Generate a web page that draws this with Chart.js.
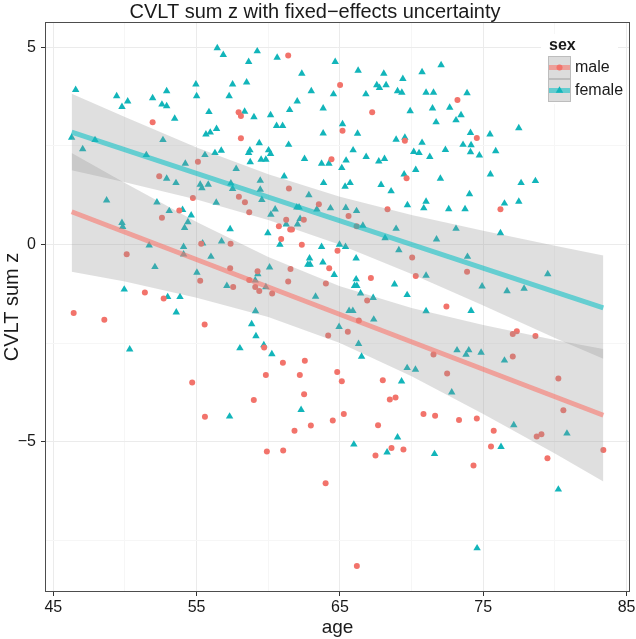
<!DOCTYPE html>
<html lang="en">
<head>
<meta charset="UTF-8" />
<title>CVLT sum z with fixed-effects uncertainty</title>
<script src="https://cdn.jsdelivr.net/npm/chart.js@4"></script>
<style>
  html, body { margin: 0; padding: 0; background: #fff; }
</style>
</head>
<body>
<canvas id="cvltChart" width="636" height="639"></canvas>
<script>
// values: [age, CVLT sum z]
const malePoints = [
  [51.93,3.10],[57.93,3.35],[58.09,3.26],[58.09,2.69],[55.09,2.10],[52.39,1.73],[54.74,1.18],[57.95,1.21],[53.79,0.86],
  [61.39,4.79],[65.01,4.04],[67.25,3.35],[65.18,2.88],[69.53,2.63],[64.41,2.16],[69.65,1.68],[61.44,1.42],[58.37,1.07],
  [63.53,1.02],[68.32,0.89],[58.67,0.82],
  [73.20,3.66],[74.55,2.70],[76.20,0.89],
  [52.58,0.68],[55.32,0.02],[57.37,0.02],[50.12,-0.25],[57.34,-0.60],[55.25,-0.92],[57.55,-1.08],[51.39,-1.22],
  [52.70,-1.37],[46.42,-1.74],[48.56,-1.91],[55.56,-2.03],[54.69,-3.50],
  [65.60,0.72],[61.25,0.63],[62.48,0.63],[60.74,0.46],[61.53,0.38],[61.65,0.38],[60.90,0.14],[62.34,-0.01],[64.83,-0.16],
  [61.55,-0.62],[64.25,-0.60],[59.25,-0.68],[58.67,-0.90],[61.39,-0.94],[64.02,-0.99],[59.09,-1.08],[59.37,-1.18],
  [60.27,-1.24],[67.16,-0.85],[70.29,-0.80],[70.04,-0.33],[66.90,-1.42],[66.32,-1.93],[65.55,-2.21],[64.18,-2.31],
  [59.71,-2.61],[61.02,-3.00],[62.55,-2.95],[59.83,-3.31],[62.20,-3.31],[64.81,-3.23],[65.13,-3.47],[67.99,-3.44],
  [58.99,-3.94],[62.50,-3.80],[68.48,-3.93],[68.88,-3.88],[71.53,-2.79],[66.16,0.46],
  [73.87,-0.69],[72.43,-1.57],[77.06,-2.27],[77.34,-2.20],[78.64,-2.32],[77.06,-2.84],[72.48,-3.27],[80.24,-3.40],
  [55.58,-4.37],
  [59.90,-5.25],[61.04,-5.22],[61.83,-4.72],[62.97,-4.59],[64.50,-4.46],[65.27,-4.30],[67.66,-4.58],[67.48,-5.35],
  [68.60,-5.16],[69.43,-5.20],[70.83,-4.30],[71.64,-4.34],[64.00,-6.05],[66.18,-8.15],
  [73.31,-4.45],[74.55,-4.41],[75.73,-4.72],[75.54,-5.12],[74.32,-5.60],[78.73,-4.87],[79.06,-4.81],[79.48,-5.42],
  [80.59,-4.20],[83.38,-5.21]
];

const femalePoints = [
  [56.44,4.98],[56.86,4.81],[46.56,3.92],[49.42,3.76],[50.19,3.63],[49.79,3.49],[51.93,3.71],[52.91,3.89],[52.58,3.55],
  [52.91,3.51],[54.95,4.06],[55.00,3.76],[57.51,4.06],[57.27,3.76],[55.86,3.36],[53.47,3.19],[46.28,2.71],[47.91,2.65],
  [47.05,2.42],[52.65,2.65],[55.65,2.79],[55.95,2.84],[56.39,2.93],[51.49,2.27],[54.21,2.05],[55.58,2.27],[56.28,2.32],
  [56.72,2.38],[57.76,1.92],[52.91,1.67],[53.56,1.56],[55.25,1.52],[55.37,1.43],[55.81,1.52],[57.39,1.55],[57.51,1.41],
  [48.72,1.12],[52.23,1.07],[56.37,1.06],[53.09,0.85],[54.02,0.88],
  [59.23,4.90],[58.63,4.63],[60.62,4.74],[58.49,4.11],[62.34,4.33],[64.67,4.63],[66.27,4.41],[68.06,4.33],[69.39,4.20],
  [70.73,4.37],[67.57,4.04],[67.76,3.97],[68.22,4.04],[69.02,3.89],[69.32,3.85],[71.01,3.85],[71.53,3.85],[63.00,3.89],
  [64.55,3.81],[66.81,3.81],[62.02,3.63],[61.49,3.41],[63.83,3.45],[58.35,3.37],[59.00,3.23],[60.16,3.28],[60.58,3.01],
  [61.00,3.01],[65.18,3.05],[63.83,2.82],[66.23,2.81],[69.90,3.38],[71.46,3.45],[71.71,3.10],[59.37,2.57],[61.42,2.53],
  [58.72,2.39],[58.63,2.32],[60.02,2.39],[60.16,2.30],[58.74,2.09],[59.50,2.15],[59.83,2.15],[62.53,2.17],[63.72,2.05],
  [64.23,2.05],[65.13,1.94],[65.43,2.13],[65.92,2.39],[66.83,2.22],[67.71,2.11],[68.11,2.17],[68.92,2.66],[69.53,2.71],
  [70.15,2.35],[70.52,2.32],[70.73,2.58],[71.27,2.22],[70.29,1.89],[69.48,1.78],[61.11,1.73],[59.44,1.62],[63.86,1.56],
  [65.71,1.56],[65.36,1.47],[67.87,1.51],[68.57,1.35],[62.83,1.25],[59.55,1.13],[59.44,1.39],[61.99,0.94],[62.15,0.94],
  [60.48,0.89],[63.39,0.89],[64.34,0.92],[65.41,0.93],[66.16,0.85],[69.71,1.00],[71.01,1.09],[70.85,0.92],
  [72.06,4.55],[73.87,3.84],[72.66,3.47],[73.45,3.28],[73.10,3.15],[74.11,2.83],[75.47,2.79],[77.48,2.95],[73.59,2.53],
  [74.15,2.52],[74.11,2.34],[74.73,2.26],[75.87,2.37],[72.36,2.40],[72.01,1.67],[75.50,1.78],[77.64,1.56],[78.64,1.61],
  [74.04,1.28],[76.48,1.04],[77.48,1.09],[72.59,0.90],[73.73,0.90],
  [49.79,0.55],[49.84,0.45],[54.62,0.74],[54.39,0.57],[54.16,0.42],[51.69,-0.02],[54.09,-0.06],[54.09,-0.25],[55.42,0.03],
  [56.74,0.08],[57.34,0.39],[56.00,-0.31],[52.09,-0.57],[55.02,-0.71],[57.11,-1.05],[49.95,-1.14],[52.98,-1.33],
  [53.84,-1.33],[53.58,-1.72],[50.33,-2.66],[58.02,-2.63],
  [60.18,0.76],[62.22,0.65],[62.04,0.51],[61.25,0.51],[59.97,0.29],[60.81,0.00],[66.60,0.48],[68.92,0.40],[68.15,0.16],
  [69.11,-0.14],[71.74,0.13],[63.72,-0.06],[64.97,0.00],[65.39,-0.06],[62.88,-0.35],[62.76,-0.51],[62.92,-0.51],
  [63.81,-0.45],[66.13,-0.35],[64.60,-0.77],[60.09,-0.58],[59.27,-0.75],[59.09,-0.91],[59.83,-1.08],[63.30,-1.32],
  [66.13,-0.88],[66.02,-1.05],[66.18,-1.05],[66.44,-1.24],[67.32,-1.35],[68.81,-1.01],[69.69,-1.28],[71.01,-0.79],
  [59.11,-1.69],[65.64,-1.68],[65.90,-1.68],[67.36,-1.90],[64.94,-2.09],[58.84,-2.02],[59.14,-2.32],[59.69,-2.55],
  [60.25,-2.78],[66.30,-2.52],[66.51,-2.84],[69.69,-3.13],[70.27,-3.17],[69.30,-3.47],[71.01,-1.69],
  [73.10,0.40],[76.20,0.29],[73.90,-0.31],[79.50,-0.75],[74.92,-1.06],[76.66,-1.18],[77.85,-1.12],[74.15,-1.68],
  [73.17,-2.68],[73.99,-2.68],[73.80,-2.79],[74.85,-2.74],[76.48,-2.94],[72.80,-3.75],
  [57.30,-4.36],
  [62.29,-4.19],[65.97,-5.07],[69.02,-4.89],[68.29,-5.27],[71.60,-5.31],
  [77.13,-4.58],[76.24,-5.13],[80.84,-4.79],[80.24,-6.21],[74.57,-7.70]
];

// fitted lines and fixed-effects bands
const lineAge = [46.28, 83.38];
const maleFit = [0.83, -4.33];
const femaleFit = [2.85, -1.61];

const bandAge = [46.28, 50, 55, 60, 65, 70, 75, 80, 83.38];
const maleUpper = [2.32, 1.56, 0.57, -0.32, -1.06, -1.61, -2.04, -2.42, -2.65];
const maleLower = [-0.69, -0.94, -1.35, -1.84, -2.50, -3.34, -4.30, -5.30, -6.01];
const femaleUpper = [3.82, 3.23, 2.46, 1.78, 1.21, 0.75, 0.35, -0.03, -0.28];
const femaleLower = [1.88, 1.58, 1.14, 0.62, -0.01, -0.75, -1.55, -2.37, -2.90];

const xMajor = [45, 55, 65, 75, 85];
const xMinor = [50, 60, 70, 80];
const yMajor = [-5, 0, 5];
const yMinor = [-7.5, -2.5, 2.5];

const MALE = '#F2736B';
const FEMALE = '#12B5BA';
const MALE_LINE = 'rgba(248,118,109,0.6)';
const FEMALE_LINE = 'rgba(0,191,196,0.55)';
const BAND = 'rgba(150,150,150,0.3)';
const FONT = '"Liberation Sans", Arial, Helvetica, sans-serif';

const toXY = (xs, ys) => xs.map((x, i) => ({ x: x, y: ys[i] }));
const pairs = arr => arr.map(p => ({ x: p[0], y: p[1] }));
const minus = v => (v < 0 ? '\u2212' + Math.abs(v) : String(v));

const panelAndKey = {
  id: 'panelAndKey',
  afterDraw(chart) {
    const { ctx, chartArea: a } = chart;
    ctx.save();

    // legend
    const kx = a.right - 82;
    ctx.fillStyle = '#fff';
    ctx.fillRect(a.right - 89, 34, 77, 70);
    ctx.fillStyle = '#1a1a1a';
    ctx.font = 'bold 16px ' + FONT;
    ctx.textBaseline = 'middle';
    ctx.fillText('sex', kx + 1, 46);

    const keys = [
      { label: 'male', y: 56, line: MALE_LINE, col: MALE, tri: false },
      { label: 'female', y: 79, line: FEMALE_LINE, col: FEMALE, tri: true }
    ];
    keys.forEach(k => {
      ctx.fillStyle = '#DCDCDC';
      ctx.fillRect(kx, k.y, 23, 23);
      ctx.strokeStyle = '#BDBDBD';
      ctx.lineWidth = 1;
      ctx.strokeRect(kx + 0.5, k.y + 0.5, 22, 22);
      const cy = k.y + 11.5, cx = kx + 11.5;
      ctx.strokeStyle = k.line;
      ctx.lineWidth = 5;
      ctx.beginPath();
      ctx.moveTo(kx + 1, cy);
      ctx.lineTo(kx + 22, cy);
      ctx.stroke();
      ctx.fillStyle = k.col;
      ctx.beginPath();
      if (k.tri) {
        const r = 4.3;
        ctx.moveTo(cx, cy - r);
        ctx.lineTo(cx + r * 0.866, cy + r * 0.5);
        ctx.lineTo(cx - r * 0.866, cy + r * 0.5);
        ctx.closePath();
      } else {
        ctx.arc(cx, cy, 3, 0, Math.PI * 2);
      }
      ctx.fill();
      ctx.fillStyle = '#1a1a1a';
      ctx.font = '16px ' + FONT;
      ctx.fillText(k.label, kx + 27, cy);
    });

    // panel border
    ctx.strokeStyle = '#4d4d4d';
    ctx.lineWidth = 1;
    ctx.strokeRect(a.left + 0.5, a.top + 0.5, a.right - a.left - 1, a.bottom - a.top - 1);
    ctx.restore();
  }
};

new Chart(document.getElementById('cvltChart'), {
  type: 'scatter',
  data: {
    datasets: [
      { type: 'line', label: 'male fit', data: toXY(lineAge, maleFit), borderColor: MALE_LINE,
        borderWidth: 5, pointRadius: 0, fill: false, order: 0 },
      { type: 'line', label: 'female fit', data: toXY(lineAge, femaleFit), borderColor: FEMALE_LINE,
        borderWidth: 5, pointRadius: 0, fill: false, order: 0 },
      { type: 'line', label: 'male upper', data: toXY(bandAge, maleUpper), borderWidth: 0,
        pointRadius: 0, backgroundColor: BAND, fill: 3, order: 1 },
      { type: 'line', label: 'male lower', data: toXY(bandAge, maleLower), borderWidth: 0,
        pointRadius: 0, fill: false, order: 1 },
      { type: 'line', label: 'female upper', data: toXY(bandAge, femaleUpper), borderWidth: 0,
        pointRadius: 0, backgroundColor: BAND, fill: 5, order: 1 },
      { type: 'line', label: 'female lower', data: toXY(bandAge, femaleLower), borderWidth: 0,
        pointRadius: 0, fill: false, order: 1 },
      { label: 'male', data: pairs(malePoints), pointStyle: 'circle', pointRadius: 3,
        backgroundColor: MALE, borderWidth: 0, order: 2 },
      { label: 'female', data: pairs(femalePoints), pointStyle: 'triangle', pointRadius: 4.3,
        backgroundColor: FEMALE, borderWidth: 0, order: 2 }
    ]
  },
  options: {
    responsive: false,
    animation: false,
    layout: { padding: { left: 0, right: 6, top: 0, bottom: 0 } },
    plugins: {
      legend: { display: false },
      tooltip: { enabled: false },
      title: {
        display: true,
        text: 'CVLT sum z with fixed\u2212effects uncertainty',
        color: '#1a1a1a',
        font: { family: FONT, size: 20, weight: 'normal', lineHeight: 1 },
        padding: { top: 2, bottom: 0 }
      }
    },
    scales: {
      x: {
        type: 'linear',
        min: 44.42,
        max: 85.24,
        afterBuildTicks: s => { s.ticks = xMajor.concat(xMinor).sort((p, q) => p - q).map(v => ({ value: v })); },
        afterFit: s => { s.height = 47; s.paddingLeft = 0; s.paddingRight = 0; },
        ticks: {
          autoSkip: false, maxRotation: 0, padding: 2, color: '#1a1a1a',
          font: { family: FONT, size: 16 },
          callback: v => (xMajor.includes(v) ? String(v) : '')
        },
        grid: {
          color: c => (c.tick && xMajor.includes(c.tick.value) ? '#EBEBEB' : '#F6F6F6'),
          tickColor: c => (c.tick && xMajor.includes(c.tick.value) ? '#333' : 'rgba(0,0,0,0)'),
          tickLength: 4,
          lineWidth: 1
        },
        border: { display: false },
        title: {
          display: true, text: 'age', color: '#1a1a1a',
          font: { family: FONT, size: 19 }, padding: { top: 0, bottom: 0 }
        }
      },
      y: {
        type: 'linear',
        min: -8.81,
        max: 5.64,
        afterBuildTicks: s => { s.ticks = yMajor.concat(yMinor).sort((p, q) => p - q).map(v => ({ value: v })); },
        afterFit: s => { s.width = 45; },
        ticks: {
          autoSkip: false, padding: 5, color: '#1a1a1a',
          font: { family: FONT, size: 16 },
          callback: v => (yMajor.includes(v) ? minus(v) : '')
        },
        grid: {
          color: c => (c.tick && yMajor.includes(c.tick.value) ? '#EBEBEB' : '#F6F6F6'),
          tickColor: c => (c.tick && yMajor.includes(c.tick.value) ? '#333' : 'rgba(0,0,0,0)'),
          tickLength: 4,
          lineWidth: 1
        },
        border: { display: false },
        title: {
          display: true, text: 'CVLT sum z', color: '#1a1a1a',
          font: { family: FONT, size: 20 }, padding: { top: 0, bottom: 0 }
        }
      }
    }
  },
  plugins: [panelAndKey]
});
</script>
</body>
</html>
